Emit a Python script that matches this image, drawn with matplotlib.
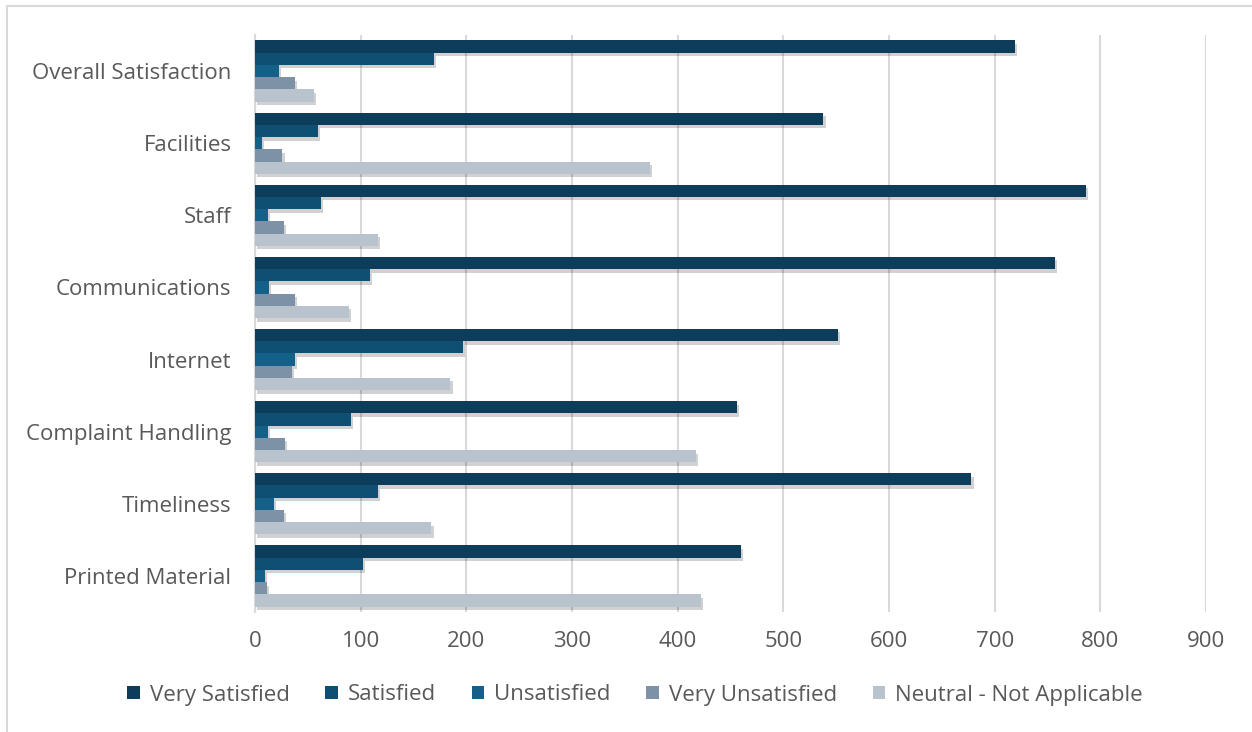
import matplotlib
matplotlib.use("Agg")
import matplotlib.pyplot as plt
import matplotlib.patheffects as pe
from matplotlib.patches import Rectangle
import numpy as np

categories = ["Overall Satisfaction", "Facilities", "Staff", "Communications",
              "Internet", "Complaint Handling", "Timeliness", "Printed Material"]
series_names = ["Very Satisfied", "Satisfied", "Unsatisfied", "Very Unsatisfied",
                "Neutral - Not Applicable"]
very_satisfied = [719, 538, 786, 757, 552, 456, 678, 460]
satisfied = [169, 60, 62, 109, 197, 91, 116, 102]
unsatisfied = [23, 7, 12, 13, 38, 12, 18, 9]
very_unsatisfied = [38, 26, 27, 38, 35, 28, 27, 11]
neutral = [56, 374, 116, 89, 185, 417, 167, 422]
xticks = [0, 100, 200, 300, 400, 500, 600, 700, 800, 900]

colors = ["#0E3D5B", "#0E4F73", "#156088", "#7D92A7", "#B8C3CE"]
series = [very_satisfied, satisfied, unsatisfied, very_unsatisfied, neutral]

plt.rcParams['font.family'] = ['Open Sans', 'DejaVu Sans']
text_color = "#595959"
fs = 16

W, H = 1252, 732
fig = plt.figure(figsize=(W / 100, H / 100), dpi=100)
fig.patches.append(Rectangle((7 / W, -0.2), 1.5, 1.2 - 6 / H, transform=fig.transFigure,
                             fill=False, edgecolor="#d9d9d9", linewidth=1.5))

ax = fig.add_axes([255 / W, 1 - 612 / H, (1206 - 255) / W, (612 - 35) / H])

y = np.arange(len(categories))
bh = 0.17
for i, (vals, c, name) in enumerate(zip(series, colors, series_names)):
    offs = (i - 2) * bh
    bars = ax.barh(y + offs, vals, height=bh, color=c, label=name, zorder=3)
    for b in bars:
        b.set_path_effects([pe.SimplePatchShadow(offset=(1.5, -2.5), alpha=0.18,
                                                 shadow_rgbFace="black"), pe.Normal()])

ax.set_xlim(0, 900)
ax.set_ylim(len(categories) - 0.5, -0.5)
ax.set_xticks(xticks)
ax.set_yticks(y)
ax.set_yticklabels(categories)
ax.xaxis.grid(True, color="#d9d9d9", linewidth=1.5, zorder=0)
ax.set_axisbelow(True)
for s in ["top", "right", "bottom"]:
    ax.spines[s].set_visible(False)
ax.spines["left"].set_color("#d9d9d9")
ax.spines["left"].set_linewidth(1.5)
ax.tick_params(axis="both", length=0, labelsize=fs, labelcolor=text_color)
ax.tick_params(axis="x", pad=14)
ax.tick_params(axis="y", pad=17)

handles, labels = ax.get_legend_handles_labels()
leg = fig.legend(handles, labels, loc="center", bbox_to_anchor=(635 / W, 1 - 695 / H),
                 ncol=5, frameon=False, fontsize=fs, handlelength=0.55, handleheight=0.55,
                 handletextpad=0.45, columnspacing=1.62, labelcolor=text_color)
for h in leg.legend_handles:
    h.set_path_effects([])

fig.savefig("out.png", dpi=100)
